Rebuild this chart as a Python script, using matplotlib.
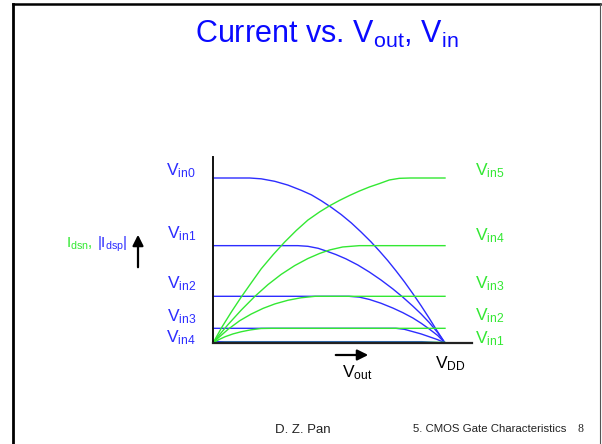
import matplotlib
matplotlib.use("Agg")
import matplotlib.pyplot as plt
from matplotlib.lines import Line2D
from matplotlib.patches import FancyArrowPatch

plt.rcParams["font.family"] = ["Liberation Sans", "DejaVu Sans"]
plt.rcParams["mathtext.fontset"] = "custom"
plt.rcParams["mathtext.rm"] = "Liberation Sans"

BLUE = "#2d2dff"
GREEN = "#33e833"

# |Idsp| (pMOS, blue) vs Vout, normalised: Vout/VDD, I/I(Vin0)
p_vout = {
    "in0": [0.0, 0.158, 0.208, 0.266, 0.323, 0.381, 0.424, 0.467, 0.51, 0.553, 0.596, 0.638,
            0.681, 0.717, 0.753, 0.789, 0.825, 0.861, 0.897, 0.932, 0.966, 1.0],
    "in1": [0.0, 0.366, 0.409, 0.453, 0.487, 0.530, 0.573, 0.624, 0.674, 0.724, 0.775, 0.818,
            0.861, 0.897, 0.932, 0.969, 1.0],
    "in2": [0.0, 0.586, 0.631, 0.674, 0.724, 0.775, 0.818, 0.861, 0.897, 0.932, 0.969, 1.0],
    "in3": [0.0, 0.789, 0.825, 0.861, 0.897, 0.932, 0.969, 1.0],
    "in4": [0.0, 0.9, 1.0],
}
p_curr = {
    "in0": [1.0, 1.0, 0.995, 0.980, 0.957, 0.925, 0.898, 0.862, 0.822, 0.778, 0.728, 0.673,
            0.613, 0.558, 0.500, 0.437, 0.371, 0.300, 0.226, 0.150, 0.073, 0.0],
    "in1": [0.59, 0.59, 0.586, 0.574, 0.558, 0.536, 0.510, 0.473, 0.430, 0.382, 0.328, 0.278,
            0.224, 0.176, 0.124, 0.062, 0.0],
    "in2": [0.283, 0.283, 0.278, 0.264, 0.241, 0.212, 0.184, 0.152, 0.120, 0.085, 0.045, 0.0],
    "in3": [0.089, 0.089, 0.083, 0.069, 0.055, 0.038, 0.020, 0.0],
    "in4": [0.008, 0.008, 0.0],
}

# Idsn (nMOS, green) vs Vout
n_vout = {
    "in5": [0.0, 0.04, 0.08, 0.12, 0.165, 0.208, 0.259, 0.309, 0.359, 0.409, 0.46, 0.503,
            0.545, 0.59, 0.631, 0.675, 0.717, 0.76, 0.803, 0.85, 1.0],
    "in4": [0.0, 0.022, 0.065, 0.122, 0.180, 0.237, 0.294, 0.352, 0.409, 0.460, 0.503, 0.559,
            0.631, 1.0],
    "in3": [0.0, 0.022, 0.065, 0.115, 0.164, 0.216, 0.267, 0.323, 0.379, 0.440, 1.0],
    "in2": [0.0, 0.026, 0.052, 0.086, 0.121, 0.160, 0.207, 0.25, 1.0],
    "in1": [0.0, 0.05, 1.0],
}
n_curr = {
    "in5": [0.0, 0.10, 0.19, 0.275, 0.365, 0.45, 0.535, 0.612, 0.682, 0.745, 0.795, 0.832,
            0.864, 0.895, 0.921, 0.946, 0.966, 0.988, 0.998, 1.0, 1.0],
    "in4": [0.0, 0.04, 0.112, 0.200, 0.282, 0.354, 0.416, 0.469, 0.512, 0.543, 0.564, 0.582,
            0.59, 0.59],
    "in3": [0.0, 0.03, 0.083, 0.135, 0.175, 0.210, 0.237, 0.259, 0.274, 0.283, 0.283],
    "in2": [0.0, 0.021, 0.038, 0.055, 0.068, 0.079, 0.088, 0.089, 0.089],
    "in1": [0.0, 0.004, 0.004],
}

W, H = 602, 444


def fx(px):
    return px / W


def fy(py):
    return 1 - py / H


fig = plt.figure(figsize=(6.02, 4.44), dpi=100)

# slide frame
fig.add_artist(Line2D([fx(13), fx(13)], [fy(4), 0], color="black", lw=2.0))
fig.add_artist(Line2D([fx(13), fx(600)], [fy(4), fy(4)], color="black", lw=1.8))
fig.add_artist(Line2D([fx(600), fx(600)], [fy(4), 0], color="#555555", lw=0.8))

ax = fig.add_axes([fx(213), fy(343), fx(472) - fx(213), fy(157) - fy(343)])
ax.set_xlim(0, (472 - 213) / 232)
ax.set_ylim(0, (343 - 157) / 165)
for k in p_vout:
    ax.plot(p_vout[k], p_curr[k], color=BLUE, lw=1.0, clip_on=False)
for k in n_vout:
    ax.plot(n_vout[k], n_curr[k], color=GREEN, lw=1.0, clip_on=False)
for s in ["top", "right"]:
    ax.spines[s].set_visible(False)
ax.spines["left"].set_linewidth(1.4)
ax.spines["bottom"].set_linewidth(1.6)
ax.spines["left"].set_color("#111111")
ax.spines["bottom"].set_color("#222222")
ax.set_xticks([]); ax.set_yticks([])
ax.patch.set_alpha(0)

fig.text(fx(327), fy(43), r"Current vs. $\mathregular{V_{out}}$, $\mathregular{V_{in}}$",
         ha="center", va="baseline", fontsize=22, color="#0a0aff")

left_labels = ["in0", "in1", "in2", "in3", "in4"]
left_base = [175, 238, 288, 321, 342]
for lab, b in zip(left_labels, left_base):
    fig.text(fx(196), fy(b), r"$\mathregular{V_{%s}}$" % lab, ha="right", va="baseline",
             fontsize=12.5, color=BLUE)

right_labels = ["in5", "in4", "in3", "in2", "in1"]
right_base = [175, 240, 288, 320, 343]
for lab, b in zip(right_labels, right_base):
    fig.text(fx(475), fy(b), r"$\mathregular{V_{%s}}$" % lab, ha="left", va="baseline",
             fontsize=12.5, color=GREEN)

fig.text(fx(66), fy(248), r"$\mathregular{I_{dsn}}$,", ha="left", va="baseline",
         fontsize=11, color=GREEN)
fig.text(fx(128), fy(248), r"$\mathregular{|I_{dsp}|}$", ha="right", va="baseline",
         fontsize=11, color=BLUE)
fig.add_artist(FancyArrowPatch((fx(138), fy(270)), (fx(138), fy(232)), transform=fig.transFigure,
                               arrowstyle="-|>", mutation_scale=16, lw=1.6, color="black"))
fig.add_artist(FancyArrowPatch((fx(333), fy(355)), (fx(371), fy(355)), transform=fig.transFigure,
                               arrowstyle="-|>", mutation_scale=16, lw=1.6, color="black"))

fig.text(fx(342), fy(377), r"$\mathregular{V_{out}}$", ha="left", va="baseline", fontsize=12.5)
fig.text(fx(435), fy(368), r"$\mathregular{V_{DD}}$", ha="left", va="baseline", fontsize=12.5)

fig.text(fx(275), fy(433), "D. Z. Pan", ha="left", va="baseline", fontsize=9.5, color="#222222")
fig.text(fx(413), fy(432), "5. CMOS Gate Characteristics", ha="left", va="baseline",
         fontsize=8.2, color="#222222")
fig.text(fx(577), fy(432), "8", ha="left", va="baseline", fontsize=8.5,
         family=["Liberation Serif"], color="#222222")

fig.savefig("out.png", dpi=100)
